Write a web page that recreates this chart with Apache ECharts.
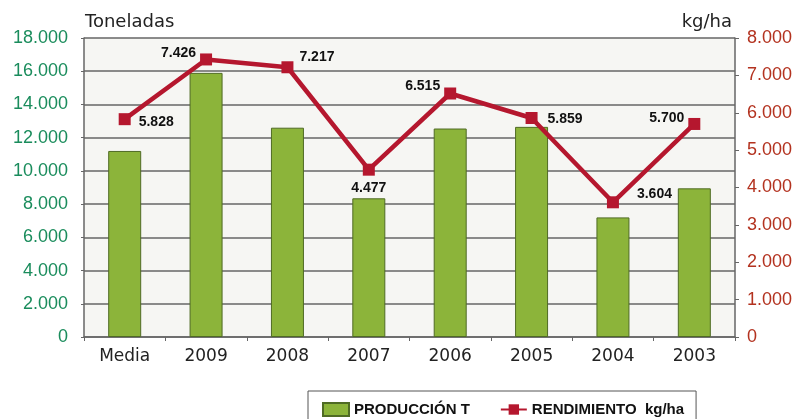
<!DOCTYPE html>
<html>
<head>
<meta charset="utf-8">
<script src="https://cdn.jsdelivr.net/npm/echarts@6/dist/echarts.min.js"></script>
<style>
  html, body { margin: 0; padding: 0; background: #fff; }
  #chart { width: 798px; height: 419px; }
</style>
</head>
<body>
<div id="chart"></div>
<script>
var categories = ["Media", "2009", "2008", "2007", "2006", "2005", "2004", "2003"];
var produccion = [11200, 15900, 12600, 8350, 12550, 12650, 7200, 8950];
var rendimiento = [5828, 7426, 7217, 4477, 6515, 5859, 3604, 5700];
var labelPos = ["right", "left", "right", "bottom", "left", "right", "right", "left"];
var labelOffset = [[0, 3], [4, -6], [-2, -10], [0, -3], [4, -7], [2, 1], [10, -8], [4, -6]];

var fmt = function (v) {
  return String(v).replace(/\B(?=(\d{3})+(?!\d))/g, ".");
};

var narrow = '"Liberation Sans Narrow", "Arial Narrow", "Liberation Sans", sans-serif';
var gridColor = "#666666";

var lineData = rendimiento.map(function (v, i) {
  return {
    value: v,
    label: { position: labelPos[i], offset: labelOffset[i] },
  };
});

var chart = echarts.init(document.getElementById("chart"));
chart.setOption({
  animation: false,
  grid: {
    left: 84,
    right: 63,
    top: 38,
    bottom: 82,
    show: true,
    backgroundColor: "#f6f6f3",
    borderWidth: 0,
  },
  legend: {
    top: 391,
    left: 308,
    padding: [11, 12, 20, 14],
    itemGap: 30,
    itemWidth: 26,
    itemHeight: 13,
    borderColor: "#555555",
    borderWidth: 1,
    backgroundColor: "#ffffff",
    textStyle: {
      fontFamily: narrow,
      fontWeight: "bold",
      fontSize: 15,
      color: "#111111",
    },
    data: [
      { name: "PRODUCCIÓN T", icon: "rect" },
      { name: "RENDIMIENTO  kg/ha" },
    ],
  },
  xAxis: {
    type: "category",
    data: categories,
    axisLine: { lineStyle: { color: gridColor, width: 1.5 } },
    axisTick: { show: true, length: 4, lineStyle: { color: gridColor } },
    axisLabel: {
      color: "#222222",
      fontFamily: "DejaVu Sans",
      fontSize: 17,
      margin: 11,
    },
  },
  yAxis: [
    {
      type: "value",
      min: 0,
      max: 18000,
      interval: 2000,
      name: "Toneladas",
      nameGap: 7,
      nameTextStyle: {
        color: "#222222",
        fontFamily: "DejaVu Sans",
        fontSize: 18,
        align: "left",
        padding: [0, 0, 0, 1],
      },
      axisLine: { show: true, lineStyle: { color: gridColor, width: 1.5 } },
      axisTick: { show: true, length: 3, lineStyle: { color: gridColor } },
      splitLine: { lineStyle: { color: gridColor, width: 1.5 } },
      axisLabel: {
        color: "#1a8c5c",
        fontFamily: "Liberation Sans",
        fontSize: 18,
        margin: 16,
        formatter: fmt,
      },
    },
    {
      type: "value",
      min: 0,
      max: 8000,
      interval: 1000,
      name: "kg/ha",
      nameGap: 7,
      nameTextStyle: {
        color: "#222222",
        fontFamily: "DejaVu Sans",
        fontSize: 18,
        align: "right",
        padding: [0, 3, 0, 0],
      },
      axisLine: { show: true, lineStyle: { color: gridColor, width: 1.5 } },
      axisTick: { show: true, length: 4, lineStyle: { color: gridColor } },
      splitLine: { show: false },
      axisLabel: {
        color: "#b3321f",
        fontFamily: "Liberation Sans",
        fontSize: 18,
        margin: 12,
        formatter: fmt,
      },
    },
  ],
  series: [
    {
      name: "PRODUCCIÓN T",
      type: "bar",
      yAxisIndex: 0,
      barWidth: 33,
      itemStyle: {
        color: "#8cb43a",
        borderColor: "#4f6b24",
        borderWidth: 1,
      },
      data: produccion,
    },
    {
      name: "RENDIMIENTO  kg/ha",
      type: "line",
      yAxisIndex: 1,
      symbol: "rect",
      symbolSize: 12,
      lineStyle: { color: "#b5172e", width: 4.5 },
      itemStyle: { color: "#b5172e" },
      label: {
        show: true,
        color: "#111111",
        fontFamily: narrow,
        fontWeight: "bold",
        fontSize: 14,
        distance: 8,
        formatter: function (p) {
          return fmt(p.value);
        },
      },
      data: lineData,
    },
  ],
});
</script>
</body>
</html>
